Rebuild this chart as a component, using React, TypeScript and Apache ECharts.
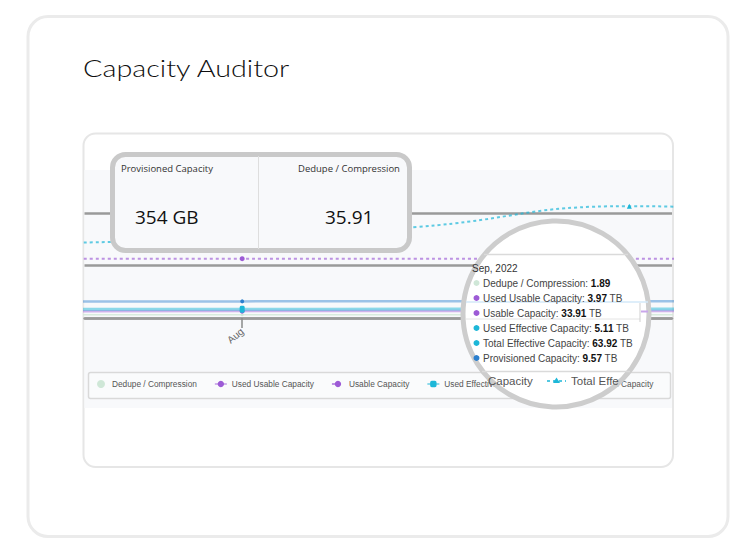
import React, { useEffect, useRef } from 'react';
import * as echarts from 'echarts';

// ---- data ----
const pointDates = ['2022-07-15', '2022-08-01', '2022-08-15', '2022-09-01', '2022-09-15'];
const dedupeCompression = [1.86, 1.87, 1.88, 1.89, 1.9];
const usedUsableCapacity = [3.9, 3.93, 3.95, 3.97, 3.98];
const usableCapacity = [33.91, 33.91, 33.91, 33.91, 33.91];
const usedEffectiveCapacity = [5.02, 5.06, 5.08, 5.11, 5.13];
const totalEffectiveCapacity = [42.5, 46, 52, 63.92, 60];
const provisionedCapacity = [9.45, 9.5, 9.53, 9.57, 9.62];
const monthNames = ['Jan', 'Feb', 'Mar', 'Apr', 'May', 'Jun', 'Jul', 'Aug', 'Sep', 'Oct', 'Nov', 'Dec'];
const tickDates = ['2022-08-01', '2022-09-01'];
const viewStart = '2022-07-19T09:00:00Z';
const viewEnd = '2022-09-04T10:00:00Z';
const hoverIndex = 3;
const kpiLabels = ['Provisioned Capacity', 'Dedupe / Compression'];
const kpiValues = ['354 GB', '35.91'];
const seriesNames = [
  'Dedupe / Compression',
  'Used Usable Capacity',
  'Usable Capacity',
  'Used Effective Capacity',
  'Total Effective Capacity',
  'Provisioned Capacity',
];
const seriesUnits = ['', ' TB', ' TB', ' TB', ' TB', ' TB'];

const ts = (d: string) => new Date(d).getTime();

const C_DEDUPE = '#cfe7d7';
const C_PURPLE = '#9d5bd6';
const C_CYAN = '#1db7d8';
const C_BLUE = '#2b7fce';

export default function App() {
  const ref = useRef<HTMLDivElement>(null);

  useEffect(() => {
    if (!ref.current) return;
    const chart = echarts.init(ref.current, undefined, { renderer: 'svg' });

    const build = (vals: number[]) =>
      pointDates.map((d, i) =>
        d.endsWith('-01') ? { value: [ts(d), vals[i]] } : { value: [ts(d), vals[i]], symbol: 'none' }
      );

    const allVals = [
      dedupeCompression,
      usedUsableCapacity,
      usableCapacity,
      usedEffectiveCapacity,
      totalEffectiveCapacity,
      provisionedCapacity,
    ];
    const dotColors = [C_DEDUPE, C_PURPLE, C_PURPLE, C_CYAN, C_CYAN, C_BLUE];

    const hoverDate = new Date(pointDates[hoverIndex]);
    const tooltipTitle = `${monthNames[hoverDate.getUTCMonth()]}, ${hoverDate.getUTCFullYear()}`;

    const FONT = 'Liberation Sans, Arial, sans-serif';
    const graphics: any[] = [];
    // outer card
    graphics.push({
      type: 'rect', z: -10,
      shape: { x: 28, y: 16.5, width: 700, height: 520, r: 20 },
      style: { fill: '#ffffff', stroke: '#ebebeb', lineWidth: 3 },
    });
    graphics.push({
      type: 'text', z: -10, x: 83, y: 68, scaleX: 1.2,
      style: { text: 'Capacity Auditor', font: '300 24px Lato', fill: '#0f0f0f', verticalAlign: 'middle' },
    });
    // inner card
    graphics.push({
      type: 'rect', z: -10,
      shape: { x: 83.5, y: 133.5, width: 589.5, height: 333.5, r: 12 },
      style: { fill: '#ffffff', stroke: '#e6e6e6', lineWidth: 2 },
    });
    graphics.push({
      type: 'rect', z: -9,
      shape: { x: 84.5, y: 170, width: 587.5, height: 238 },
      style: { fill: '#f8f9fb' },
    });
    // legend box
    graphics.push({
      type: 'rect', z: -8,
      shape: { x: 88.5, y: 372.5, width: 582, height: 26, r: 2 },
      style: { fill: '#fafbfc', stroke: '#d9d9d9', lineWidth: 1.5 },
    });

    // KPI card overlay
    graphics.push({
      type: 'rect', z: 100,
      shape: { x: 112.5, y: 154.5, width: 297, height: 96, r: 13 },
      style: { fill: '#f8f9fb', stroke: '#c9c9c9', lineWidth: 5 },
    });
    graphics.push({
      type: 'line', z: 101,
      shape: { x1: 258.5, y1: 156, x2: 258.5, y2: 249 },
      style: { stroke: '#dedede', lineWidth: 1 },
    });
    graphics.push({
      type: 'text', z: 101, x: 121, y: 168,
      style: { text: kpiLabels[0], font: '9.5px "Open Sans"', fill: '#333', verticalAlign: 'middle' },
    });
    graphics.push({
      type: 'text', z: 101, x: 298, y: 168,
      style: { text: kpiLabels[1], font: '9.5px "Open Sans"', fill: '#333', verticalAlign: 'middle' },
    });
    graphics.push({
      type: 'text', z: 101, x: 135, y: 217,
      style: { text: kpiValues[0], font: '19px "Open Sans"', fill: '#111', verticalAlign: 'middle' },
    });
    graphics.push({
      type: 'text', z: 101, x: 325, y: 217,
      style: { text: kpiValues[1], font: '19px "Open Sans"', fill: '#111', verticalAlign: 'middle' },
    });

    // magnifier
    const cx = 556, cy = 314, r = 93;
    graphics.push({
      type: 'circle', z: 100,
      shape: { cx, cy, r },
      style: { fill: '#ffffff', stroke: '#cdcdcd', lineWidth: 5 },
    });
    // magnified chart fragments
    graphics.push({ type: 'line', z: 101, shape: { x1: 466, y1: 302, x2: 648, y2: 302 }, style: { stroke: '#d3e8f8', lineWidth: 1.5 } });
    graphics.push({ type: 'line', z: 101, shape: { x1: 466, y1: 319, x2: 640, y2: 319 }, style: { stroke: '#e4e4e4', lineWidth: 1 } });
    graphics.push({ type: 'line', z: 101, shape: { x1: 640, y1: 303, x2: 640, y2: 322 }, style: { stroke: '#cfcfcf', lineWidth: 1 } });
    graphics.push({ type: 'line', z: 101, shape: { x1: 641, y1: 311.5, x2: 648, y2: 311.5 }, style: { stroke: '#c9a6ea', lineWidth: 2 } });
    graphics.push({ type: 'line', z: 101, shape: { x1: 484, y1: 254.5, x2: 628, y2: 254.5 }, style: { stroke: '#dadada', lineWidth: 1.5 } });
    graphics.push({ type: 'line', z: 101, shape: { x1: 482, y1: 371.5, x2: 630, y2: 371.5 }, style: { stroke: '#dadada', lineWidth: 1.5 } });
    // tooltip texts
    graphics.push({
      type: 'text', z: 102, x: 472, y: 268,
      style: { text: tooltipTitle, font: `10px ${FONT}`, fill: '#333', verticalAlign: 'middle' },
    });
    seriesNames.forEach((name, i) => {
      const y = 283 + i * 15;
      const v = allVals[i][hoverIndex].toFixed(2);
      graphics.push({
        type: 'circle', z: 102, shape: { cx: 476.5, cy: y, r: 3 }, style: { fill: dotColors[i] },
      });
      graphics.push({
        type: 'text', z: 102, x: 483, y,
        style: {
          text: `{l|${name}: }{v|${v}}{l|${seriesUnits[i]}}`,
          verticalAlign: 'middle',
          rich: {
            l: { fontSize: 10, fontFamily: FONT, fill: '#444' },
            v: { fontSize: 10, fontFamily: FONT, fontWeight: 'bold', fill: '#111' },
          },
        },
      });
    });
    // magnified legend fragment
    graphics.push({
      type: 'text', z: 102, x: 488, y: 381,
      style: { text: 'Capacity', font: `11.5px ${FONT}`, fill: '#555', verticalAlign: 'middle' },
    });
    graphics.push({
      type: 'line', z: 102, shape: { x1: 547, y1: 381, x2: 566, y2: 381 },
      style: { stroke: C_CYAN, lineWidth: 1.5, lineDash: [3, 3] },
    });
    graphics.push({
      type: 'polygon', z: 102, shape: { points: [[556.5, 377.5], [560, 383], [553, 383]] },
      style: { fill: C_CYAN },
    });
    graphics.push({
      type: 'text', z: 102, x: 571, y: 381,
      style: { text: 'Total Effe', font: `11.5px ${FONT}`, fill: '#555', verticalAlign: 'middle' },
    });

    const lineSeries = (
      i: number,
      color: string,
      symbol: string,
      lineStyle: any,
      symbolSize: any = 5
    ) => ({
      name: seriesNames[i],
      type: 'line',
      data: build(allVals[i]),
      smooth: true,
      symbol,
      symbolSize,
      showSymbol: true,
      color,
      itemStyle: { color },
      lineStyle: { color, ...lineStyle },
      emphasis: { disabled: true },
    });

    const option: any = {
      animation: false,
      backgroundColor: 'transparent',
      grid: { left: 84.5, right: 76, top: 160.5, bottom: 233, containLabel: false },
      xAxis: {
        type: 'value',
        min: ts(viewStart),
        max: ts(viewEnd),
        splitLine: { show: false },
        axisLine: { show: true, onZero: true, lineStyle: { color: '#9a9a9a', width: 2.5 } },
        axisTick: {
          show: true,
          customValues: tickDates.map(ts),
          length: 10,
          lineStyle: { color: '#8a8a8a', width: 1.5 },
        },
        axisLabel: {
          customValues: tickDates.map(ts),
          rotate: 40,
          margin: 12,
          fontSize: 10,
          fontFamily: FONT,
          color: '#666',
          formatter: (v: number) => monthNames[new Date(v).getUTCMonth()],
        },
      },
      yAxis: {
        type: 'value',
        min: 0,
        max: 90,
        interval: 30,
        axisLine: { show: false },
        axisTick: { show: false },
        axisLabel: { show: false },
        splitLine: { show: true, showMaxLine: false, lineStyle: { color: '#9a9a9a', width: 2.5 } },
      },
      legend: {
        left: 97,
        top: 380,
        padding: 0,
        itemGap: 17,
        itemWidth: 12,
        itemHeight: 8,
        textStyle: { fontSize: 8.3, fontFamily: FONT, color: '#555' },
        data: [
          { name: seriesNames[0], icon: 'circle' },
          seriesNames[1],
          seriesNames[2],
          seriesNames[3],
          seriesNames[4],
        ],
        selectedMode: false,
      },
      series: [
        lineSeries(0, C_DEDUPE, 'circle', { width: 1.5, opacity: 0.8 }, 3),
        lineSeries(1, C_PURPLE, 'circle', { width: 2.5, opacity: 0.45 }),
        lineSeries(2, C_PURPLE, 'circle', { width: 2, type: [3, 3], opacity: 0.65 }),
        lineSeries(3, C_CYAN, 'roundRect', { width: 3, opacity: 0.5 }, [5, 7]),
        lineSeries(4, C_CYAN, 'triangle', { width: 2, type: [3, 3], opacity: 0.7 }),
        lineSeries(5, C_BLUE, 'circle', { width: 2.5, opacity: 0.45 }, 4),
      ],
      graphic: { elements: graphics },
    };

    chart.setOption(option);
    return () => chart.dispose();
  }, []);

  return (
    <div
      ref={ref}
      style={{ position: 'absolute', left: 0, top: 0, width: 748, height: 551, background: '#ffffff' }}
    />
  );
}
